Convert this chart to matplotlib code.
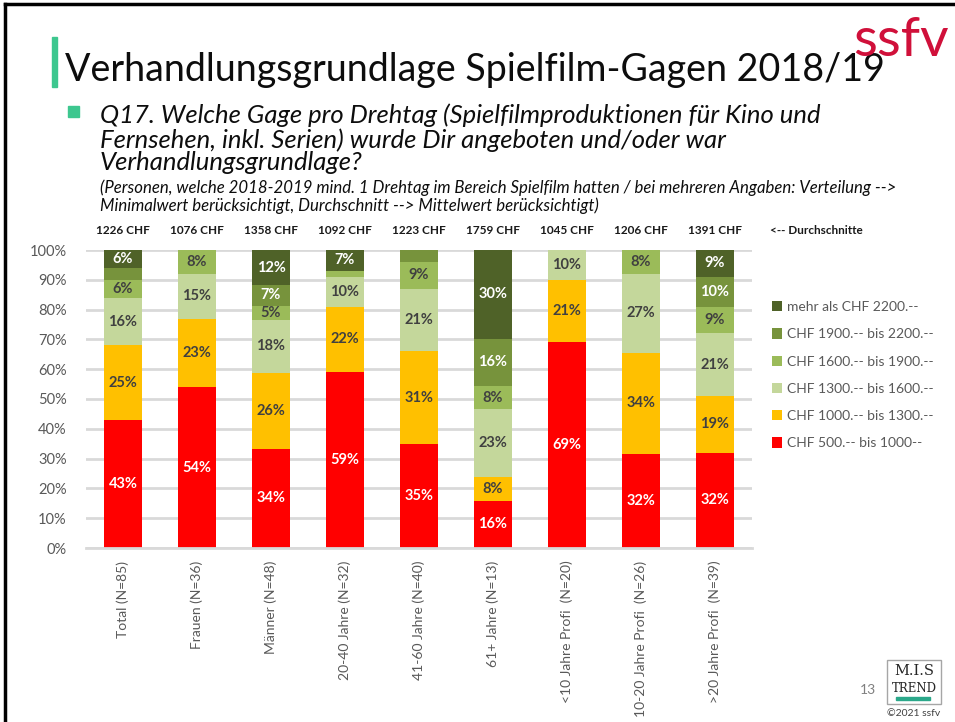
import matplotlib
matplotlib.use('Agg')
import matplotlib.pyplot as plt
from matplotlib.patches import Rectangle
from matplotlib.lines import Line2D
import numpy as np

W, H = 955, 722
plt.rcParams['font.family'] = ['Lato', 'DejaVu Sans']

# data (percent, bottom -> top)
groups = ['Total (N=85)', 'Frauen (N=36)', 'Männer (N=48)', '20-40 Jahre (N=32)',
          '41-60 Jahre (N=40)', '61+ Jahre (N=13)', '<10 Jahre Profi  (N=20)',
          '10-20 Jahre Profi  (N=26)', '>20 Jahre Profi  (N=39)']
averages = ['1226 CHF', '1076 CHF', '1358 CHF', '1092 CHF', '1223 CHF',
            '1759 CHF', '1045 CHF', '1206 CHF', '1391 CHF']
series_names = ['CHF 500.-- bis 1000--', 'CHF 1000.-- bis 1300.--', 'CHF 1300.-- bis 1600.--',
                'CHF 1600.-- bis 1900.--', 'CHF 1900.-- bis 2200.--', 'mehr als CHF 2200.--']
s500 = [43, 54, 34, 59, 35, 16, 69, 32, 32]
s1000 = [25, 23, 26, 22, 31, 8, 21, 34, 19]
s1300 = [16, 15, 18, 10, 21, 23, 10, 27, 21]
s1600 = [6, 8, 5, 2, 9, 8, 0, 8, 9]
s1900 = [4, 0, 7, 0, 4, 16, 0, 0, 10]
s2200 = [6, 0, 12, 7, 0, 30, 0, 0, 9]
series = [s500, s1000, s1300, s1600, s1900, s2200]

COLORS = ['#FF0000', '#FFC000', '#C4D79B', '#9BBB59', '#77933C', '#4F6228']
TXT = ['white', '#404040', '#404040', '#404040', 'white', 'white']
GRAY, GRID, ACCENT = '#595959', '#D9D9D9', '#3DC78F'

fig = plt.figure(figsize=(W / 100, H / 100), dpi=100)
fy = lambda y: 1 - y / H
fx = lambda x: x / W

ax = fig.add_axes([fx(86), fy(548), fx(752) - fx(86), (548 - 250) / H])
vals = np.array(series, dtype=float)
totals = vals.sum(axis=0)
x = np.arange(len(groups))
bottom = np.zeros(len(groups))
handles = []
for vs, name, col, tc in zip(vals, series_names, COLORS, TXT):
    h = vs / totals
    b = ax.bar(x, h, 0.51, bottom=bottom, color=col, label=name, zorder=2)
    handles.append(b)
    for xi, v, hh, bt in zip(x, vs, h, bottom):
        if v >= 5:
            ax.text(xi, bt + hh / 2, f'{int(v)}%', ha='center', va='center',
                    color=tc, fontsize=10.5, fontweight='bold', zorder=3)
    bottom += h

ax.set_xlim(-0.5, len(groups) - 0.5)
ax.set_ylim(0, 1)
ax.set_yticks(np.arange(0, 1.01, 0.1))
ax.set_yticklabels([f'{int(round(t * 100))}%' for t in np.arange(0, 1.01, 0.1)])
ax.yaxis.grid(True, color=GRID, lw=2, zorder=0)
ax.set_axisbelow(True)
for s in ['top', 'right', 'left']:
    ax.spines[s].set_visible(False)
ax.spines['bottom'].set_color(GRID)
ax.spines['bottom'].set_linewidth(2)
ax.tick_params(length=0, colors=GRAY, labelsize=10.5)
ax.tick_params(axis='y', pad=14)
ax.set_xticks(x)
ax.set_xticklabels(groups, rotation=90, va='top', ha='center', fontsize=10)
ax.tick_params(axis='x', pad=9)

# averages row
for xi, a in zip(x, averages):
    ax.text(xi, 1.067, a, transform=ax.get_xaxis_transform(), ha='center', va='center',
            fontsize=8.5, fontweight='bold', color='#1a1a1a')
fig.text(fx(770), fy(230), '<-- Durchschnitte', ha='left', va='center',
         fontsize=8.5, fontweight='bold', color='#1a1a1a')

# legend
fig.legend(handles[::-1], series_names[::-1], loc='upper left',
           bbox_to_anchor=(fx(772), fy(301)), frameon=False, fontsize=10,
           handlelength=0.75, handleheight=0.75, handletextpad=0.3,
           labelspacing=1.1, borderpad=0, borderaxespad=0, labelcolor=GRAY)

# header texts
r = fig.canvas.get_renderer()
def fit(t, width_px):
    w = t.get_window_extent(r).width
    t.set_fontsize(t.get_fontsize() * width_px / w)
    return t

title = fig.text(fx(65), fy(81), 'Verhandlungsgrundlage Spielfilm-Gagen 2018/19',
                 ha='left', va='baseline', fontsize=26, color='#0d0d0d')
fit(title, 820)
fig.patches.append(Rectangle((fx(52), fy(87)), fx(5), 50 / H, transform=fig.transFigure,
                             color=ACCENT, figure=fig))
logo = fig.text(fx(853), fy(56), 'ssfv', ha='left', va='baseline', fontsize=30,
                color='#D0103A')
fit(logo, 96)

fig.patches.append(Rectangle((fx(68), fy(117)), fx(11), 11 / H, transform=fig.transFigure,
                             color=ACCENT, figure=fig))
q = ['Q17. Welche Gage pro Drehtag (Spielfilmproduktionen für Kino und',
     'Fernsehen, inkl. Serien) wurde Dir angeboten und/oder war',
     'Verhandlungsgrundlage?']
qt = [fig.text(fx(100), fy(y), s, ha='left', va='center', style='italic', fontsize=16,
               color='#0d0d0d') for s, y in zip(q, [115, 140, 163])]
fit(qt[0], 722)
for t in qt[1:]:
    t.set_fontsize(qt[0].get_fontsize())
notes = ['(Personen, welche 2018-2019 mind. 1 Drehtag im Bereich Spielfilm hatten / bei mehreren Angaben: Verteilung -->',
         'Minimalwert berücksichtigt, Durchschnitt --> Mittelwert berücksichtigt)']
nt = [fig.text(fx(100), fy(y), s, ha='left', va='center', style='italic', fontsize=9,
               color='#0d0d0d') for s, y in zip(notes, [188, 206])]
fit(nt[0], 795)
nt[1].set_fontsize(nt[0].get_fontsize())

# footer
fig.text(fx(860), fy(690), '13', ha='left', va='center', fontsize=10, color='#808080')
fig.patches.append(Rectangle((fx(887), fy(704)), fx(54), 44 / H, transform=fig.transFigure,
                             fill=False, edgecolor='#A6A6A6', lw=1, figure=fig))
fig.text(fx(914), fy(671), 'M.I.S', ha='center', va='center', fontsize=10.5,
         family='DejaVu Serif', color='#262626')
fig.text(fx(914), fy(689), 'TREND', ha='center', va='center', fontsize=8.5,
         family='DejaVu Serif', color='#262626')
fig.patches.append(Rectangle((fx(896), fy(700)), fx(34), 3 / H, transform=fig.transFigure,
                             color='#2BA88A', figure=fig))
fig.text(fx(914), fy(714), '©2021 ssfv', ha='center', va='center', fontsize=7.5,
         color='#404040')

# slide frame
fig.add_artist(Line2D([fx(5), 1], [fy(4), fy(4)], transform=fig.transFigure, color='black', lw=2.5))
fig.add_artist(Line2D([fx(5), fx(5)], [0, fy(4)], transform=fig.transFigure, color='black', lw=2.5))

fig.savefig('out.png', dpi=100)
